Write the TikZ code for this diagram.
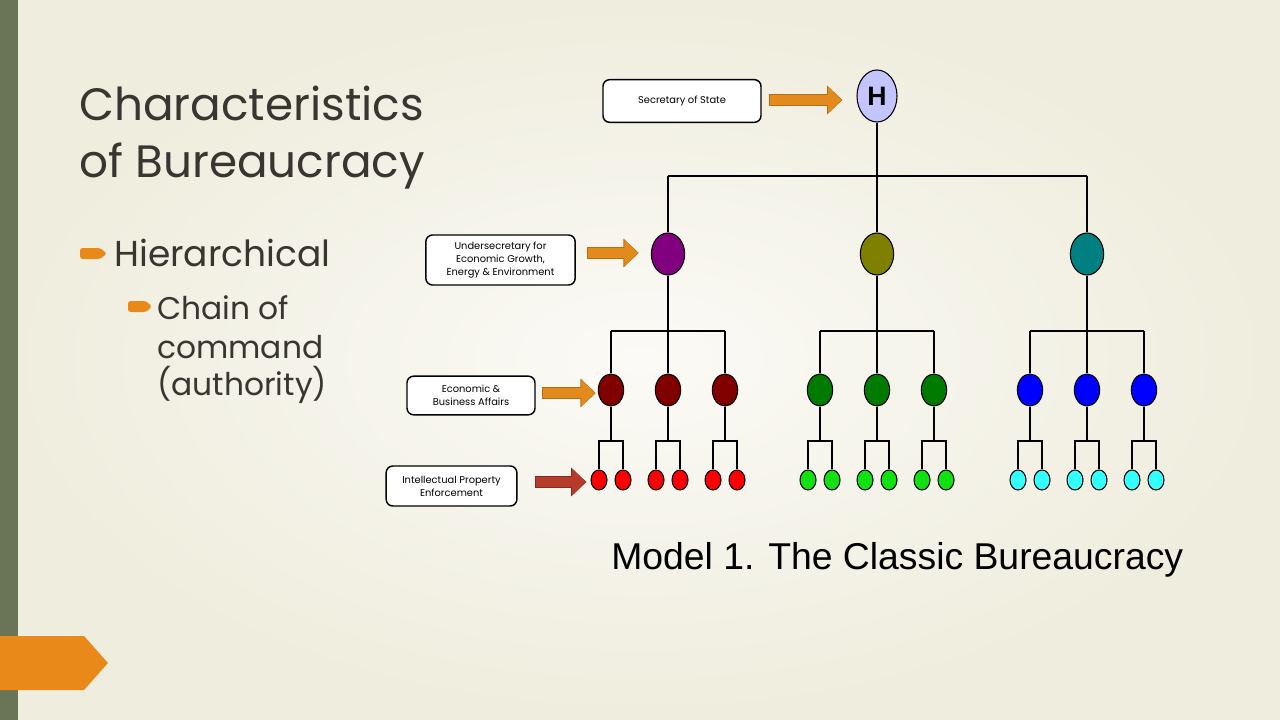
\documentclass[tikz,border=0pt]{standalone}
\usepackage{fontspec}
\setmainfont{Poppins}
\newfontfamily\capfont{Liberation Sans}
\usetikzlibrary{shapes.geometric,arrows.meta,calc}

\definecolor{bgdark}{HTML}{EFEDDD}
\definecolor{bglight}{HTML}{FBFAF6}
\definecolor{barcol}{HTML}{6A7457}
\definecolor{accent}{HTML}{E8891A}
\definecolor{titlecol}{HTML}{3B3531}
\definecolor{arrorange}{HTML}{E38A1C}
\definecolor{arrdark}{HTML}{B96C14}
\definecolor{arrred}{HTML}{B73B2A}
\definecolor{arrreddark}{HTML}{862A1E}
\definecolor{hcol}{HTML}{C4C4FF}
\definecolor{mpurple}{HTML}{800080}
\definecolor{molive}{HTML}{808000}
\definecolor{mteal}{HTML}{008080}
\definecolor{mred}{HTML}{800000}
\definecolor{dgreen}{HTML}{007A00}
\definecolor{mblue}{HTML}{0000FF}
\definecolor{lred}{HTML}{FF0000}
\definecolor{lgreen}{HTML}{11E011}
\definecolor{lcyan}{HTML}{33FFFF}

\tikzset{
  labbox/.style={draw=black, line width=1.1pt, fill=white, rounded corners=5pt,
    align=center, font=\fontsize{7.4}{9.75}\selectfont, inner sep=2pt},
  orgnode/.style={ellipse, draw=black, line width=0.8pt, inner sep=0pt},
  lvlzero/.style={orgnode, minimum width=30pt, minimum height=39pt},
  lvlone/.style={orgnode, minimum width=25pt, minimum height=31.5pt},
  lvltwo/.style={orgnode, minimum width=19pt, minimum height=24pt},
  lvlthree/.style={orgnode, minimum width=12pt, minimum height=15pt},
  link/.style={line width=1.5pt},
  bigarrow/.style={draw=#1, line width=7.2pt, -{Triangle[length=10pt,width=19pt]}},
  bigarrow/.default=arrorange,
  arrback/.style={draw=#1, line width=8.8pt, -{Triangle[length=11.5pt,width=21pt]}},
  arrback/.default=arrdark
}

\begin{document}
\begin{tikzpicture}[x=0.75pt,y=-0.75pt]

% sfondo
\useasboundingbox (0,0) rectangle (1280,720);
\shade[inner color=bglight, outer color=bgdark] (0,0) rectangle (1280,720);
\fill[barcol] (0,0) rectangle (18,720);
\fill[accent] (0,636) -- (84,636) -- (108,663) -- (84,690) -- (0,690) -- cycle;

% titolo e punti
\node[anchor=base west, inner sep=0, text=titlecol, font=\fontsize{34}{40}\selectfont] (t1) at (79,121) {Characteristics};
\node[anchor=base west, inner sep=0, text=titlecol, font=\fontsize{34}{40}\selectfont] (t2) at (79,178) {of Bureaucracy};

\fill[accent, rounded corners=2pt] (80,248) -- (100,248) -- (107,253.5) -- (100,259) -- (80,259) -- cycle;
\node[anchor=base west, inner sep=0, text=titlecol, font=\fontsize{27}{30}\selectfont] (p1) at (114,267) {Hierarchical};
\fill[accent, rounded corners=2pt] (128,301) -- (146,301) -- (152,306.5) -- (146,312) -- (128,312) -- cycle;
\node[anchor=base west, inner sep=0, text=titlecol, font=\fontsize{23.5}{29}\selectfont] (p2) at (157,319) {Chain of};
\node[anchor=base west, inner sep=0, text=titlecol, font=\fontsize{23.5}{29}\selectfont] (p3) at (157,358) {command};
\node[anchor=base west, inner sep=0, text=titlecol, font=\fontsize{23.5}{29}\selectfont] (p4) at (157,395) {(authority)};

% albero
\node[lvlzero, fill=hcol, font=\capfont\bfseries\fontsize{20}{20}\selectfont] (H) at (877,96) {H};
\coordinate (r1) at (0,176);
\coordinate (r2) at (0,331);
\coordinate (r3) at (0,441);
\draw[link] (H.south) -- (H |- r1);
\draw[link] (668,176) -- (1087,176);

\foreach \p/\x/\ct/\cm/\cl in {a/668/mpurple/mred/lred, b/877/molive/dgreen/lgreen, c/1087/mteal/mblue/lcyan}{
  \node[lvlone, fill=\ct] (u\p) at (\x,254) {};
  \draw[link] (u\p |- r1) -- (u\p.north);
  \draw[link] (u\p.south) -- (u\p |- r2);
  \foreach \i/\dx in {1/-57,2/0,3/57}{
    \node[lvltwo, fill=\cm] (m\p\i) at (\x+\dx,390) {};
    \draw[link] (m\p\i |- r2) -- (m\p\i.north);
    \draw[link] (m\p\i.south) -- (m\p\i |- r3);
    \node[lvlthree, fill=\cl] (l\p\i a) at (\x+\dx-12,480) {};
    \node[lvlthree, fill=\cl] (l\p\i b) at (\x+\dx+12,480) {};
    \draw[link] (l\p\i a.north) |- (m\p\i |- r3) -| (l\p\i b.north);
  }
  \draw[link] (m\p1 |- r2) -- (m\p3 |- r2);
}

% etichette
\node[labbox, minimum width=118.5pt, minimum height=32pt] (sec) at (682,101) {Secretary of State};
\node[labbox, minimum width=112pt, minimum height=37.5pt] (und) at (500.5,260) {Undersecretary for\\Economic Growth,\\Energy \& Environment};
\node[labbox, minimum width=96pt, minimum height=29pt] (eco) at (471,395.5) {Economic \&\\Business Affairs};
\node[labbox, minimum width=98pt, minimum height=30pt] (ipe) at (451.5,486) {Intellectual Property\\Enforcement};

% frecce
\coordinate (s1) at ($(sec.east)+(0,-1)$);
\coordinate (s2) at ($(und.east |- ua)+(0,-1)$);
\coordinate (s3) at ($(eco.east |- ma1)+(0,3)$);
\coordinate (s4) at ($(ipe.east |- la1a)+(0,2)$);
\draw[arrback] ($(s1)+(7,0)$) -- ($(s1 -| H.west)+(-14,0)$);
\draw[bigarrow] ($(s1)+(8,0)$) -- ($(s1 -| H.west)+(-15,0)$);
\draw[arrback] ($(s2)+(11,0)$) -- ($(s2 -| ua.west)+(-12,0)$);
\draw[bigarrow] ($(s2)+(12,0)$) -- ($(s2 -| ua.west)+(-13,0)$);
\draw[arrback] ($(s3)+(6,0)$) -- ($(s3 -| ma1.west)+(-2,0)$);
\draw[bigarrow] ($(s3)+(7,0)$) -- ($(s3 -| ma1.west)+(-3,0)$);
\draw[arrback=arrreddark] ($(s4)+(17,0)$) -- ($(s4 -| la1a.west)+(-4,0)$);
\draw[bigarrow=arrred] ($(s4)+(18,0)$) -- ($(s4 -| la1a.west)+(-5,0)$);

% didascalia
\node[anchor=base west, inner sep=0, font=\capfont\fontsize{28}{30}\selectfont] (cap) at (611,569) {Model 1. The Classic Bureaucracy};

\end{tikzpicture}
\end{document}
